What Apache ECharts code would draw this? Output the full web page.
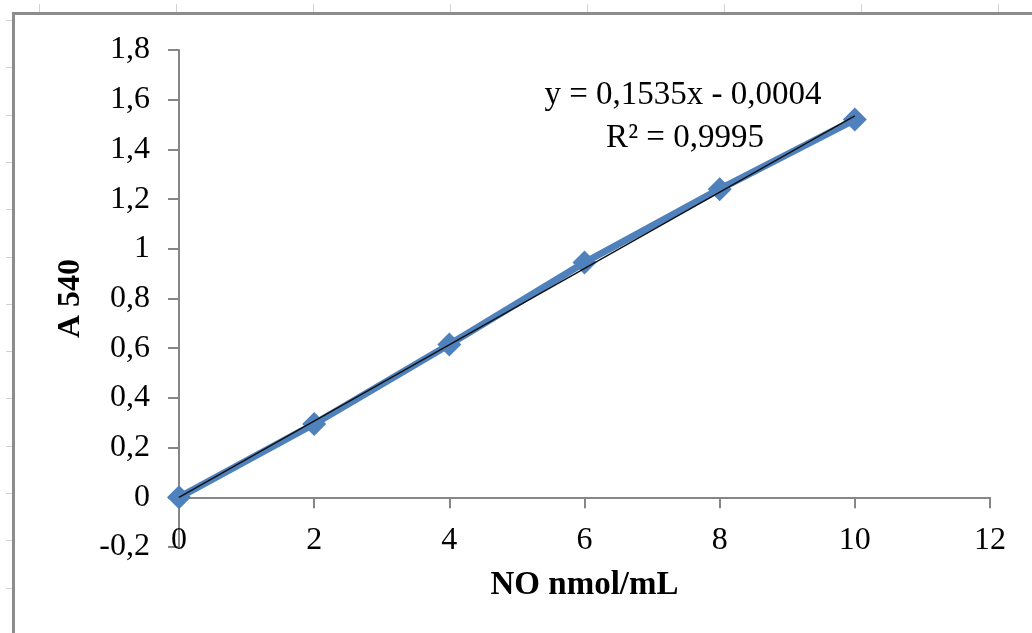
<!DOCTYPE html>
<html>
<head>
<meta charset="utf-8">
<script src="https://cdn.jsdelivr.net/npm/echarts@6/dist/echarts.min.js"></script>
<style>
  html, body { margin: 0; padding: 0; background: #ffffff; }
  #chart { width: 1032px; height: 633px; }
</style>
</head>
<body>
<div id="chart"></div>
<script>
// Calibration data: NO concentration vs absorbance at 540 nm
const concentrations = [0, 2, 4, 6, 8, 10];
const absorbances = [0, 0.295, 0.615, 0.945, 1.24, 1.52];

// Linear trendline as stated by its label
const trendSlope = 0.1535;
const trendIntercept = -0.0004;
const trendRange = [0, 10];
const equationText = 'y = 0,1535x - 0,0004';
const r2Text = 'R² = 0,9995';

const xTicks = { min: 0, max: 12, interval: 2 };
const yTicks = { min: -0.2, max: 1.8, interval: 0.2 };

const SERIF = "'Liberation Serif', 'Times New Roman', serif";
const AXIS_GREY = '#868686';

function decimalComma(v) {
  const r = Math.round(v * 10) / 10;
  return String(r).replace('.', ',');
}

// Page-ruler marks along the top and left of the frame
const rulerMarks = [];
for (let x = 39; x < 1032; x += 137) {
  rulerMarks.push({ type: 'line', shape: { x1: x + 0.5, y1: 4, x2: x + 0.5, y2: 12 },
    style: { stroke: '#d2d2d2', lineWidth: 1 }, silent: true });
}
for (let y = 20; y < 633; y += 47.3) {
  rulerMarks.push({ type: 'line', shape: { x1: 6, y1: Math.round(y) + 0.5, x2: 12, y2: Math.round(y) + 0.5 },
    style: { stroke: '#d2d2d2', lineWidth: 1 }, silent: true });
}

const chart = echarts.init(document.getElementById('chart'));
chart.setOption({
  animation: false,
  backgroundColor: '#ffffff',
  grid: { left: 179, right: 42, top: 50, bottom: 86, containLabel: false, outerBoundsMode: 'none' },
  xAxis: {
    type: 'value',
    min: xTicks.min, max: xTicks.max, interval: xTicks.interval,
    axisLine: { show: true, onZero: true, lineStyle: { color: AXIS_GREY, width: 2 } },
    axisTick: { show: true, inside: false, length: 11, lineStyle: { color: AXIS_GREY, width: 2 } },
    axisLabel: { color: '#000', fontFamily: SERIF, fontSize: 32, margin: -22, formatter: decimalComma },
    splitLine: { show: false },
    name: 'NO nmol/mL',
    nameLocation: 'middle',
    nameGap: 22,
    nameTextStyle: { color: '#000', fontFamily: SERIF, fontSize: 33, fontWeight: 'bold' }
  },
  yAxis: {
    type: 'value',
    min: yTicks.min, max: yTicks.max, interval: yTicks.interval,
    axisLine: { show: true, onZero: false, lineStyle: { color: AXIS_GREY, width: 2 } },
    axisTick: { show: true, inside: false, length: 11, lineStyle: { color: AXIS_GREY, width: 2 } },
    axisLabel: { color: '#000', fontFamily: SERIF, fontSize: 32, margin: 29, formatter: decimalComma },
    splitLine: { show: false },
    name: 'A 540',
    nameLocation: 'middle',
    nameRotate: 90,
    nameGap: 92,
    nameTextStyle: { color: '#000', fontFamily: SERIF, fontSize: 32, fontWeight: 'bold' }
  },
  series: [
    {
      name: 'A 540',
      type: 'line',
      data: concentrations.map((c, i) => [c, absorbances[i]]),
      symbol: 'diamond',
      symbolSize: 24,
      lineStyle: { color: '#4F81BD', width: 7 },
      itemStyle: { color: '#4F81BD' },
      z: 2
    },
    {
      name: 'Linear trend',
      type: 'line',
      data: trendRange.map(x => [x, trendSlope * x + trendIntercept]),
      symbol: 'none',
      lineStyle: { color: '#111111', width: 1.5 },
      z: 3
    }
  ],
  graphic: [
    {
      type: 'rect',
      shape: { x: 13.5, y: 13.5, width: 1100, height: 700 },
      style: { fill: 'none', stroke: '#8c8c8c', lineWidth: 3 },
      silent: true, z: -1
    },
    ...rulerMarks,
    {
      type: 'text', x: 683, y: 95,
      style: { text: equationText, fill: '#000', font: '33px ' + SERIF, textAlign: 'center', textVerticalAlign: 'middle' }
    },
    {
      type: 'text', x: 685, y: 138,
      style: { text: r2Text, fill: '#000', font: '33px ' + SERIF, textAlign: 'center', textVerticalAlign: 'middle' }
    }
  ]
});
</script>
</body>
</html>
